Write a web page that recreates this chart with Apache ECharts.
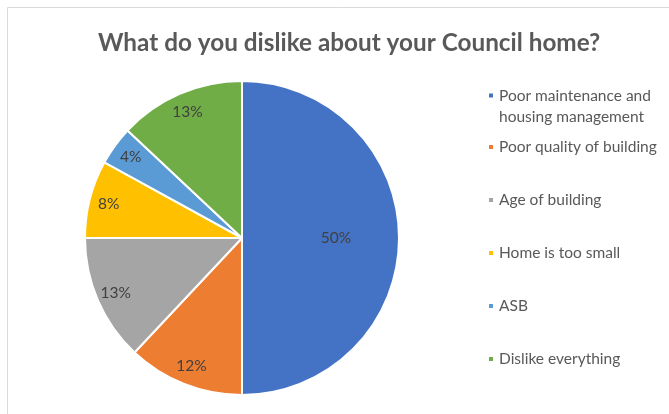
<!DOCTYPE html>
<html><head><meta charset="utf-8">
<script src="https://cdn.jsdelivr.net/npm/echarts@6/dist/echarts.min.js"></script>
<style>html,body{margin:0;padding:0;background:#fff}#c{width:669px;height:414px}</style>
</head><body><div id="c"></div>
<script>
const titleText = 'What do you dislike about your Council home?';
const categories = ['Poor maintenance and housing management', 'Poor quality of building', 'Age of building', 'Home is too small', 'ASB', 'Dislike everything'];
const values = [50, 12, 13, 8, 4, 13];
const colors = ['#4472C4', '#ED7D31', '#A5A5A5', '#FFC000', '#5B9BD5', '#70AD47'];

const FONT = 'Lato';
const chart = echarts.init(document.getElementById('c'), null, {renderer: 'canvas'});
const center = [242, 238];
const R = 157;

const sliceData = categories.map((n, i) => ({name: n, value: values[i], itemStyle: {color: colors[i]}}));
const outerLabelData = categories.map((n, i) => ({name: n, value: values[i], label: {show: i !== 0}}));
const innerLabelData = categories.map((n, i) => ({name: n, value: values[i], label: {show: i === 0}}));
const labelCommon = {position: 'inside', formatter: '{c}%', color: '#404040', fontFamily: FONT, fontSize: 15.5};

chart.setOption({
  animation: false,
  title: {
    text: titleText, left: 93, top: 26,
    textStyle: {fontFamily: FONT, fontSize: 24.3, fontWeight: 'bold', color: '#595959'}
  },
  legend: [
    {
      data: [categories[0]], orient: 'vertical', left: 487, top: 64, padding: 0,
      icon: 'rect', itemWidth: 6, itemHeight: 6,
      formatter: () => ' \nPoor maintenance and\nhousing management',
      textStyle: {fontFamily: FONT, fontSize: 15.5, color: '#595959', lineHeight: 21}
    },
    {
      data: categories.slice(1), orient: 'vertical', left: 487, top: 139, padding: 0, itemGap: 37,
      icon: 'rect', itemWidth: 6, itemHeight: 6,
      textStyle: {fontFamily: FONT, fontSize: 15.5, color: '#595959', lineHeight: 16}
    }
  ],
  graphic: [{
    type: 'rect', silent: true, z: -10,
    shape: {x: 7.5, y: 7.5, width: 700, height: 420},
    style: {fill: 'none', stroke: '#D9D9D9', lineWidth: 1}
  }],
  series: [
    {
      type: 'pie', center: center, radius: [0, R], startAngle: 90, clockwise: true,
      label: {show: false}, labelLine: {show: false},
      itemStyle: {borderColor: '#fff', borderWidth: 2},
      emphasis: {disabled: true},
      data: sliceData
    },
    {
      type: 'pie', center: center, radius: [112, R], startAngle: 90, clockwise: true, silent: true,
      itemStyle: {color: 'rgba(0,0,0,0)'}, labelLine: {show: false},
      label: labelCommon, emphasis: {disabled: true},
      data: outerLabelData
    },
    {
      type: 'pie', center: center, radius: [25, R], startAngle: 90, clockwise: true, silent: true,
      itemStyle: {color: 'rgba(0,0,0,0)'}, labelLine: {show: false},
      label: labelCommon, emphasis: {disabled: true},
      data: innerLabelData
    }
  ]
});
</script></body></html>
